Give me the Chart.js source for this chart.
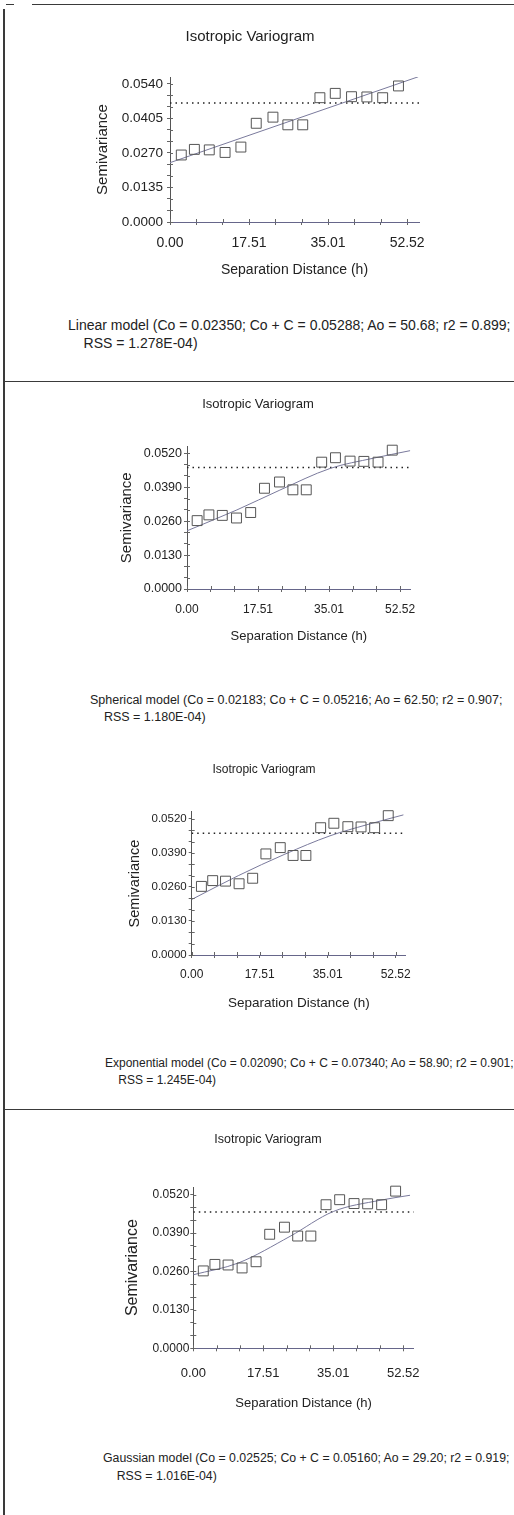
<!DOCTYPE html>
<html>
<head>
<meta charset="utf-8">
<script src="https://cdn.jsdelivr.net/npm/chart.js@4.4.0/dist/chart.umd.min.js"></script>
<style>
  body { margin: 0; width: 514px; height: 1515px; background: #fff; position: relative; overflow: hidden;
         font-family: "Liberation Sans", Arial, sans-serif; color: #222; }
  canvas { position: absolute; left: 0; }
  .rule { position: absolute; background: #3a3a3a; }
  .cap { position: absolute; white-space: nowrap; color: #222; }
</style>
</head>
<body>
<div class="rule" style="left:3px;top:9px;width:2px;height:1506px"></div>
<div class="rule" style="left:6px;top:4px;width:8px;height:1px"></div>
<div class="rule" style="left:32px;top:4px;width:482px;height:1px"></div>
<div class="rule" style="left:4px;top:381px;width:510px;height:1px"></div>
<div class="rule" style="left:4px;top:1109px;width:510px;height:1px"></div>

<canvas id="c1" width="514" height="276" style="top:8px"></canvas>
<canvas id="c2" width="514" height="268" style="top:380px"></canvas>
<canvas id="c3" width="514" height="270" style="top:745px"></canvas>
<canvas id="c4" width="514" height="300" style="top:1115px"></canvas>

<div class="cap" style="left:68px;top:316px;font-size:14px;line-height:18px">Linear model (Co = 0.02350; Co + C = 0.05288; Ao = 50.68; r2 = 0.899;<br>&nbsp;&nbsp;&nbsp;&nbsp;RSS = 1.278E-04)</div>
<div class="cap" style="left:90px;top:692px;font-size:12.5px;line-height:17px">Spherical model (Co = 0.02183; Co + C = 0.05216; Ao = 62.50; r2 = 0.907;<br>&nbsp;&nbsp;&nbsp;&nbsp;RSS = 1.180E-04)</div>
<div class="cap" style="left:105px;top:1055px;font-size:12px;line-height:17px">Exponential model (Co = 0.02090; Co + C = 0.07340; Ao = 58.90; r2 = 0.901;<br>&nbsp;&nbsp;&nbsp;&nbsp;RSS = 1.245E-04)</div>
<div class="cap" style="left:103px;top:1449px;font-size:12.3px;line-height:18px">Gaussian model (Co = 0.02525; Co + C = 0.05160; Ao = 29.20; r2 = 0.919;<br>&nbsp;&nbsp;&nbsp;&nbsp;RSS = 1.016E-04)</div>

<script>
// experimental variogram (same lags in all four panels)
var lagDistance  = [2.5, 5.4, 8.7, 12.2, 15.7, 19.1, 22.8, 26.1, 29.4, 33.2, 36.6, 40.2, 43.6, 47.1, 50.6];
var semivariance = [0.0262, 0.0284, 0.0282, 0.0272, 0.0293, 0.0386, 0.0410, 0.0380, 0.0380,
                    0.0486, 0.0503, 0.0490, 0.0489, 0.0486, 0.0532];

var xTickLabels  = ['0.00', '17.51', '35.01', '52.52'];
var yTickLabelsA = ['0.0000', '0.0135', '0.0270', '0.0405', '0.0540'];
var yTickLabelsB = ['0.0000', '0.0130', '0.0260', '0.0390', '0.0520'];

// sample variance (dotted line), read per panel
var sampleVariance = [0.0465, 0.0466, 0.0465, 0.0461];

// fitted model curves
var linearX      = [0, 55];
var linearY      = [0.0232, 0.0568];
var sphericalX   = [0, 12.3, 22.9, 35.3, 45.9, 55];
var sphericalY   = [0.0223, 0.0303, 0.0379, 0.0462, 0.0501, 0.0530];
var exponentialX = [0, 12, 24, 35.6, 45, 54.5];
var exponentialY = [0.0212, 0.0303, 0.0385, 0.0455, 0.0497, 0.0535];
var gaussianX    = [0, 11.3, 24.2, 35, 46.7, 54.2];
var gaussianY    = [0.0249, 0.0289, 0.0379, 0.0463, 0.0501, 0.0518];

var FONT = '"Liberation Sans", Arial, sans-serif';

function pairs(xs, ys) {
    return xs.map(function (x, i) { return {x: x, y: ys[i]}; });
}

function tickValues(labels) {
    var last = parseFloat(labels[labels.length - 1]);
    var n = (labels.length - 1) * 3;
    var out = [];
    for (var i = 0; i <= n; i++) out.push({value: i * last / n});
    return out;
}

// short tick marks on the inner side of both axes, so they cross the axis line
var innerTicks = {
    id: 'innerTicks',
    afterDraw: function (chart) {
        var ctx = chart.ctx, a = chart.chartArea, xs = chart.scales.x, ys = chart.scales.y;
        ctx.save();
        ctx.strokeStyle = '#666';
        ctx.lineWidth = 1;
        ctx.beginPath();
        xs.ticks.forEach(function (t) {
            var px = Math.round(xs.getPixelForValue(t.value)) + 0.5;
            ctx.moveTo(px, a.bottom);
            ctx.lineTo(px, a.bottom - 3);
        });
        ys.ticks.forEach(function (t) {
            var py = Math.round(ys.getPixelForValue(t.value)) + 0.5;
            ctx.moveTo(a.left, py);
            ctx.lineTo(a.left + 3, py);
        });
        ctx.stroke();
        ctx.restore();
    }
};

function drawPanel(id, g, yLabels, modelX, modelY, sill) {
    var xMax = parseFloat(xTickLabels[xTickLabels.length - 1]) * 1.05;
    var yMax = parseFloat(yLabels[yLabels.length - 1]) * 1.05;
    var tl = 3;

    var pr = 514 - g.plotRight;
    var pl = 2 * g.titleX - 514 + pr;
    var yWidth = g.plotLeft - pl;
    var xHeight = g.xTitleY + g.xTitleSize * 0.6 - g.plotBottom;
    var padTop = g.titleY - g.titleSize * 0.6 - g.top;
    var titleGap = g.plotTop - (g.titleY + g.titleSize * 0.6);
    var padBottom = g.top + g.height - (g.plotBottom + xHeight);

    new Chart(document.getElementById(id), {
        type: 'scatter',
        plugins: [innerTicks],
        data: {
            datasets: [{
                data: pairs(lagDistance, semivariance),
                pointStyle: 'rect',
                pointRadius: 7,
                borderColor: '#555',
                borderWidth: 1,
                backgroundColor: 'rgba(0,0,0,0)',
                clip: false
            }, {
                data: pairs(modelX, modelY),
                showLine: true,
                pointRadius: 0,
                borderColor: '#7a7a9c',
                borderWidth: 1,
                cubicInterpolationMode: 'monotone'
            }, {
                data: [{x: 0, y: sill}, {x: xMax, y: sill}],
                showLine: true,
                pointRadius: 0,
                borderColor: '#222',
                borderWidth: 1.5,
                borderDash: [1.5, 4]
            }]
        },
        options: {
            responsive: false,
            animation: false,
            layout: {padding: {left: pl, right: pr, top: padTop, bottom: padBottom}},
            plugins: {
                legend: {display: false},
                tooltip: {enabled: false},
                title: {
                    display: true,
                    text: 'Isotropic Variogram',
                    color: '#222',
                    font: {family: FONT, size: g.titleSize, weight: 'normal'},
                    padding: {top: 0, bottom: titleGap}
                }
            },
            scales: {
                x: {
                    type: 'linear',
                    min: 0,
                    max: xMax,
                    afterBuildTicks: function (s) { s.ticks = tickValues(xTickLabels); },
                    afterFit: function (s) { s.height = xHeight; },
                    grid: {drawOnChartArea: false, tickLength: tl, color: '#666'},
                    border: {color: '#66668a', width: 1},
                    ticks: {
                        autoSkip: false,
                        maxRotation: 0,
                        color: '#222',
                        font: {family: FONT, size: g.xTickSize},
                        padding: g.xLabelY - g.plotBottom - tl - g.xTickSize * 0.6,
                        callback: function (v, i) { return i % 3 === 0 ? xTickLabels[i / 3] : ''; }
                    },
                    title: {
                        display: true,
                        text: 'Separation Distance (h)',
                        color: '#222',
                        font: {family: FONT, size: g.xTitleSize},
                        padding: 0
                    }
                },
                y: {
                    type: 'linear',
                    min: 0,
                    max: yMax,
                    afterBuildTicks: function (s) { s.ticks = tickValues(yLabels); },
                    afterFit: function (s) { s.width = yWidth; },
                    grid: {drawOnChartArea: false, tickLength: tl, color: '#666'},
                    border: {color: '#555', width: 1},
                    ticks: {
                        autoSkip: false,
                        color: '#222',
                        font: {family: FONT, size: g.yTickSize},
                        padding: g.yLabelGap - tl,
                        callback: function (v, i) { return i % 3 === 0 ? yLabels[i / 3] : ''; }
                    },
                    title: {
                        display: true,
                        text: 'Semivariance',
                        color: '#222',
                        font: {family: FONT, size: g.yTitleSize},
                        padding: {top: g.yTitleX - g.yTitleSize * 0.6 - pl, bottom: 0}
                    }
                }
            }
        }
    });
}

drawPanel('c1', {top: 8, height: 276, plotLeft: 170, plotRight: 419, plotTop: 77, plotBottom: 222,
    titleX: 250, titleY: 37, titleSize: 15, yTitleX: 103, yTitleSize: 15, xTitleY: 270, xTitleSize: 14,
    xLabelY: 243, xTickSize: 14, yTickSize: 13.5, yLabelGap: 7}, yTickLabelsA, linearX, linearY, sampleVariance[0]);

drawPanel('c2', {top: 380, height: 268, plotLeft: 187, plotRight: 410.7, plotTop: 446.5, plotBottom: 589,
    titleX: 258, titleY: 404, titleSize: 13, yTitleX: 127, yTitleSize: 15, xTitleY: 636, xTitleSize: 13,
    xLabelY: 610, xTickSize: 12, yTickSize: 12.5, yLabelGap: 5}, yTickLabelsB, sphericalX, sphericalY, sampleVariance[1]);

drawPanel('c3', {top: 745, height: 270, plotLeft: 191.7, plotRight: 405.9, plotTop: 812, plotBottom: 955,
    titleX: 264, titleY: 770, titleSize: 12, yTitleX: 135, yTitleSize: 14.5, xTitleY: 1003, xTitleSize: 13.5,
    xLabelY: 975, xTickSize: 12, yTickSize: 11.5, yLabelGap: 5}, yTickLabelsB, exponentialX, exponentialY, sampleVariance[2]);

drawPanel('c4', {top: 1115, height: 300, plotLeft: 193.3, plotRight: 413.8, plotTop: 1187, plotBottom: 1348.3,
    titleX: 268, titleY: 1140, titleSize: 12.5, yTitleX: 133, yTitleSize: 16, xTitleY: 1403, xTitleSize: 13,
    xLabelY: 1373, xTickSize: 13, yTickSize: 12, yLabelGap: 4}, yTickLabelsB, gaussianX, gaussianY, sampleVariance[3]);
</script>
</body>
</html>
